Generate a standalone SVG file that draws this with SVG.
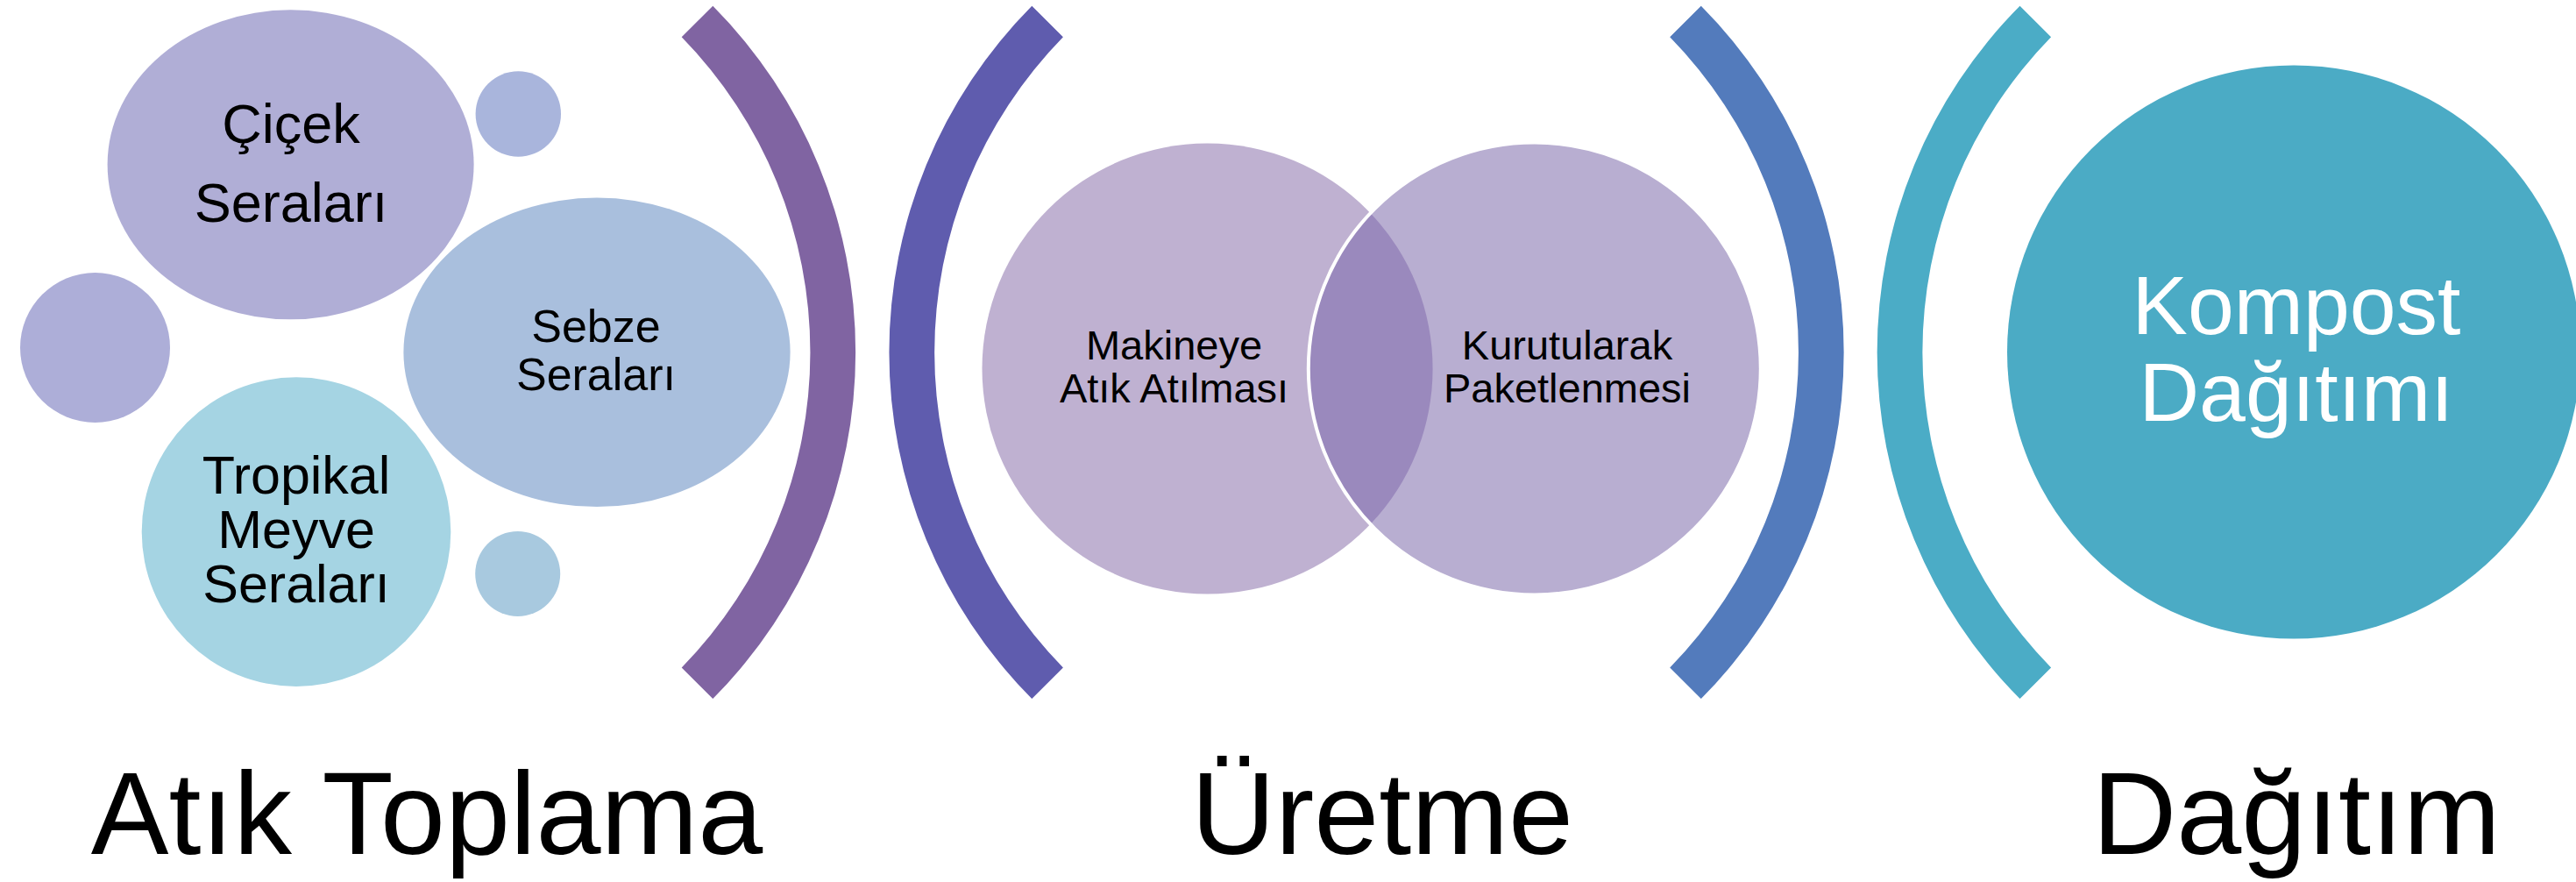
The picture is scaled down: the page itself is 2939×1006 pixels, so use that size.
<svg xmlns="http://www.w3.org/2000/svg" width="2939" height="1006" viewBox="0 0 2939 1006">
<style>
text{font-family:"Liberation Sans",Arial,sans-serif;text-anchor:middle;fill:#000}
.w{fill:#fff}
.big{font-size:133px}
</style>
<rect x="0" y="0" width="2939" height="1006" fill="#fff"/>
<g id="connectors">
<path id="arc1" d="M813.3 6.7 A561 561 0 0 1 813.3 797.1 L777.7 761.5 A514 514 0 0 0 777.7 42.3 Z" fill="#8064a2"/>
<path id="arc2" d="M1177.3 6.7 A561 561 0 0 0 1177.3 797.1 L1212.9 761.5 A514 514 0 0 1 1212.9 42.3 Z" fill="#5f5cae"/>
<path id="arc3" d="M1940.8 6.7 A561 561 0 0 1 1940.8 797.1 L1905.2 761.5 A514 514 0 0 0 1905.2 42.3 Z" fill="#537bbc"/>
<path id="arc4" d="M2304.5 6.7 A561 561 0 0 0 2304.5 797.1 L2340.1 761.5 A514 514 0 0 1 2340.1 42.3 Z" fill="#4bacc6"/>
</g>
<g id="small-top"><circle cx="591.3" cy="130" r="48.7" fill="#a9b5dc"/></g>
<g id="small-left"><circle cx="108.5" cy="396.5" r="85.5" fill="#adaed8"/></g>
<g id="small-bottom"><circle cx="590.7" cy="654.5" r="48.5" fill="#a8c9df"/></g>
<g id="cicek">
<ellipse cx="331.6" cy="187.8" rx="209" ry="176.5" fill="#b0aed6"/>
<text x="332" y="163" font-size="63">Çiçek</text>
<text x="332" y="253" font-size="63">Seraları</text>
</g>
<g id="sebze">
<ellipse cx="681" cy="401.8" rx="220.6" ry="176.3" fill="#a9bfdd"/>
<text x="680" y="390" font-size="52">Sebze</text>
<text x="680" y="445" font-size="52">Seraları</text>
</g>
<g id="tropikal">
<circle cx="338" cy="606.6" r="176.3" fill="#a5d4e3"/>
<text x="338" y="563" font-size="61">Tropikal</text>
<text x="338" y="625" font-size="61">Meyve</text>
<text x="338" y="687" font-size="61">Seraları</text>
</g>
<g id="venn-left">
<circle cx="1377.5" cy="420.5" r="257" fill="#bfb1d1"/>
</g>
<g id="venn-right">
<circle cx="1750.8" cy="420.5" r="257" fill="#b8aed1"/>
<path d="M1564.1 243.7 A257 257 0 0 1 1564.1 597.3 A257 257 0 0 1 1564.1 243.7 Z" fill="#9a89bd"/>
<circle cx="1750.8" cy="420.5" r="258" fill="none" stroke="#fff" stroke-width="4"/>
</g>
<g id="venn-text">
<text x="1339.5" y="410" font-size="47">Makineye</text>
<text x="1339.5" y="459" font-size="47">Atık Atılması</text>
<text x="1788" y="410" font-size="47">Kurutularak</text>
<text x="1788" y="459" font-size="47">Paketlenmesi</text>
</g>
<g id="kompost">
<circle cx="2617" cy="401.5" r="327" fill="#4babc5"/>
<text class="w" x="2620" y="381" font-size="95">Kompost</text>
<text class="w" x="2620" y="480" font-size="95">Dağıtımı</text>
</g>
<g id="labels">
<text class="big" x="487" y="973.5">Atık Toplama</text>
<text class="big" x="1577" y="973.5">Üretme</text>
<text class="big" x="2620" y="973.5">Dağıtım</text>
</g>
</svg>
